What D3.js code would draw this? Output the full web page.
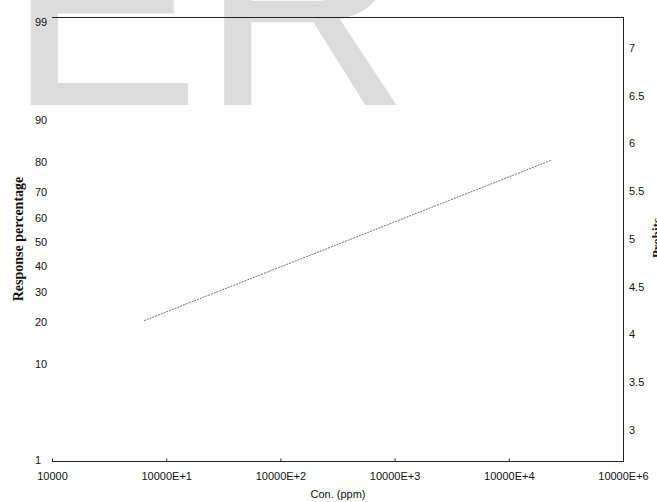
<!DOCTYPE html>
<html>
<head>
<meta charset="utf-8">
<script src="https://cdn.jsdelivr.net/npm/d3@7"></script>
<style>
  html, body { margin: 0; padding: 0; background: #fff; }
  svg { display: block; }
</style>
</head>
<body>
<svg id="chart" width="657" height="502"></svg>
<script>
// Probit regression of response vs. concentration (log dose)
const concentrations = [63900, 2.375e8];       // ppm, ends of the fitted line
const responses = [19.6, 79.6];                 // response %
const percentTicks = [1, 10, 20, 30, 40, 50, 60, 70, 80, 90, 99];
const probitTicks = [3, 3.5, 4, 4.5, 5, 5.5, 6, 6.5, 7];
const concTicks = [1e4, 1e5, 1e6, 1e7, 1e8, 1e9];
const concTickLabels = ["10000", "10000E+1", "10000E+2", "10000E+3", "10000E+4", "10000E+6"];

// Inverse standard normal CDF (Acklam's rational approximation)
function normInv(p) {
  const a = [-3.969683028665376e+01, 2.209460984245205e+02, -2.759285104469687e+02,
             1.383577518672690e+02, -3.066479806614716e+01, 2.506628277459239e+00];
  const b = [-5.447609879822406e+01, 1.615858368580409e+02, -1.556989798598866e+02,
             6.680131188771972e+01, -1.328068155288572e+01];
  const c = [-7.784894002430293e-03, -3.223964580411365e-01, -2.400758277161838e+00,
             -2.549671010315303e+00, 4.374664141464968e+00, 2.938163982698783e+00];
  const d = [7.784695709041462e-03, 3.224671290700398e-01, 2.445134137142996e+00,
             3.754408661907416e+00];
  const pl = 0.02425, ph = 1 - pl;
  let q, r;
  if (p < pl) {
    q = Math.sqrt(-2 * Math.log(p));
    return (((((c[0]*q+c[1])*q+c[2])*q+c[3])*q+c[4])*q+c[5]) /
           ((((d[0]*q+d[1])*q+d[2])*q+d[3])*q+1);
  } else if (p <= ph) {
    q = p - 0.5; r = q * q;
    return (((((a[0]*r+a[1])*r+a[2])*r+a[3])*r+a[4])*r+a[5])*q /
           (((((b[0]*r+b[1])*r+b[2])*r+b[3])*r+b[4])*r+1);
  } else {
    q = Math.sqrt(-2 * Math.log(1 - p));
    return -(((((c[0]*q+c[1])*q+c[2])*q+c[3])*q+c[4])*q+c[5]) /
            ((((d[0]*q+d[1])*q+d[2])*q+d[3])*q+1);
  }
}
const probit = pct => 5 + normInv(pct / 100);

const svg = d3.select("#chart");
const plotLeft = 52, plotRight = 623, plotTop = 17, plotBottom = 461;

// Watermark behind the chart
svg.append("text")
  .attr("x", 7).attr("y", 105)
  .attr("font-family", "Liberation Sans, Arial, sans-serif")
  .attr("font-size", 290)
  .attr("fill", "#dcdcdc")
  .text("ER");

const x = d3.scaleLog().domain([1e4, 1e9]).range([plotLeft, plotRight]);
const yProbit = d3.scaleLinear()
  .domain([probit(1), probit(99)])
  .range([plotBottom, plotTop]);

const font = "Liberation Sans, Arial, sans-serif";

// Frame: top, right and bottom edges
const frame = svg.append("g").attr("stroke", "#222").attr("stroke-width", 1).attr("fill", "none");
frame.append("line").attr("x1", plotLeft).attr("x2", plotRight + 0.5).attr("y1", plotTop + 0.5).attr("y2", plotTop + 0.5);
frame.append("line").attr("x1", plotRight + 0.5).attr("x2", plotRight + 0.5).attr("y1", plotTop).attr("y2", plotBottom + 0.5);
frame.append("line").attr("x1", plotLeft).attr("x2", plotRight + 0.5).attr("y1", plotBottom + 0.5).attr("y2", plotBottom + 0.5);

// Bottom axis ticks and labels
const xAxis = d3.axisBottom(x)
  .tickValues(concTicks)
  .tickSizeInner(-3).tickSizeOuter(0)
  .tickFormat((d, i) => concTickLabels[i]);
const gx = svg.append("g")
  .attr("transform", `translate(0,${plotBottom + 0.5})`)
  .call(xAxis);
gx.select(".domain").remove();
gx.selectAll(".tick line").attr("stroke", "#222");
gx.selectAll(".tick text")
  .attr("y", 11)
  .attr("font-family", font).attr("font-size", 11).attr("fill", "#111");

// Left axis: response percentage on probability scale
svg.append("g").selectAll("text")
  .data(percentTicks)
  .join("text")
  .attr("x", 35)
  .attr("y", d => d === 99 ? yProbit(probit(d)) + 5 : (d === 1 ? yProbit(probit(d)) - 1 : yProbit(probit(d)) + 3))
  .attr("dy", "0.35em")
  .attr("font-family", font).attr("font-size", 11).attr("fill", "#111")
  .text(d => d);

// Right axis: probits
svg.append("g").selectAll("text")
  .data(probitTicks)
  .join("text")
  .attr("x", 629)
  .attr("y", d => yProbit(d))
  .attr("dy", "0.35em")
  .attr("font-family", font).attr("font-size", 11).attr("fill", "#111")
  .text(d => d);

// Axis titles
svg.append("text")
  .attr("transform", "translate(23,239) rotate(-90)")
  .attr("text-anchor", "middle")
  .attr("font-family", "Liberation Serif, Times New Roman, serif")
  .attr("font-weight", "bold").attr("font-size", 14).attr("fill", "#111")
  .text("Response percentage");

svg.append("text")
  .attr("transform", "translate(661,238) rotate(-90)")
  .attr("text-anchor", "middle")
  .attr("font-family", "Liberation Serif, Times New Roman, serif")
  .attr("font-weight", "bold").attr("font-size", 13).attr("fill", "#111")
  .text("Probits");

svg.append("text")
  .attr("x", 338).attr("y", 498)
  .attr("text-anchor", "middle")
  .attr("font-family", font).attr("font-size", 11).attr("fill", "#111")
  .text("Con. (ppm)");

// Fitted probit line
const pts = concentrations.map((c, i) => [c, responses[i]]);
svg.append("path")
  .datum(pts)
  .attr("fill", "none")
  .attr("stroke", "#444")
  .attr("stroke-width", 0.8)
  .attr("stroke-dasharray", "2 1")
  .attr("d", d3.line().x(d => x(d[0])).y(d => yProbit(probit(d[1]))));
</script>
</body>
</html>
